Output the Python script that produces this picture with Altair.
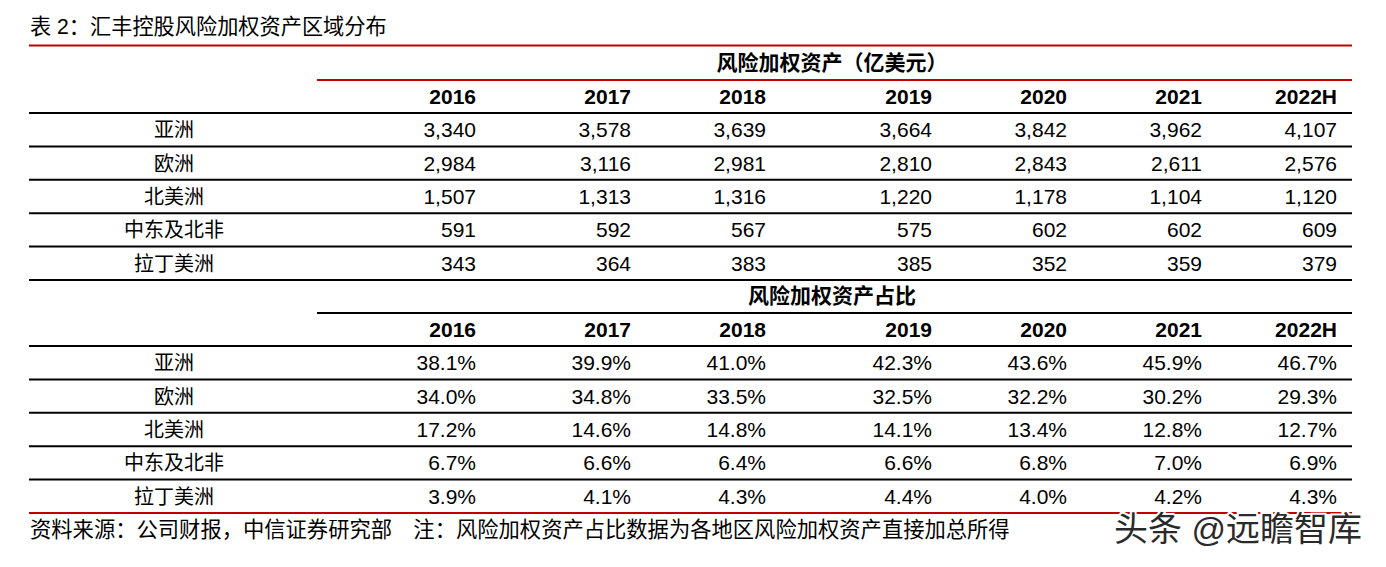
import altair as alt
import pandas as pd

# ---------------- data ----------------
title = "表 2：汇丰控股风险加权资产区域分布"
header_rwa = "风险加权资产（亿美元）"
header_share = "风险加权资产占比"
footer = "资料来源：公司财报，中信证券研究部\u3000注：风险加权资产占比数据为各地区风险加权资产直接加总所得"
watermark = "头条 @远瞻智库"

years = ["2016", "2017", "2018", "2019", "2020", "2021", "2022H"]
regions = ["亚洲", "欧洲", "北美洲", "中东及北非", "拉丁美洲"]

rwa_asia = [3340, 3578, 3639, 3664, 3842, 3962, 4107]
rwa_europe = [2984, 3116, 2981, 2810, 2843, 2611, 2576]
rwa_namerica = [1507, 1313, 1316, 1220, 1178, 1104, 1120]
rwa_mena = [591, 592, 567, 575, 602, 602, 609]
rwa_latam = [343, 364, 383, 385, 352, 359, 379]

share_asia = [38.1, 39.9, 41.0, 42.3, 43.6, 45.9, 46.7]
share_europe = [34.0, 34.8, 33.5, 32.5, 32.2, 30.2, 29.3]
share_namerica = [17.2, 14.6, 14.8, 14.1, 13.4, 12.8, 12.7]
share_mena = [6.7, 6.6, 6.4, 6.6, 6.8, 7.0, 6.9]
share_latam = [3.9, 4.1, 4.3, 4.4, 4.0, 4.2, 4.3]

rwa_rows = [rwa_asia, rwa_europe, rwa_namerica, rwa_mena, rwa_latam]
share_rows = [share_asia, share_europe, share_namerica, share_mena, share_latam]

# ---------------- layout (page pixel units) ----------------
W, H = 1370, 551
X0, Y0 = 8, 8
col_right = [476, 631, 766, 932, 1067, 1202, 1337]
label_cx = 174
left_x, right_x, sub_left = 29, 1352, 317
row_h = 33.4
sec1_lines = 113.0
sec2_lines = 346.0
header_cx = 832

FONT = "Liberation Sans, Arial, Noto Sans CJK SC"
RED = "#c00000"

xs = alt.Scale(domain=[X0, X0 + W], range=[0, W])
ys = alt.Scale(domain=[Y0, Y0 + H], range=[0, H])

# ---------------- rules ----------------
rules = []
rules.append(dict(x=left_x, x2=right_x, y=45.5, c="red"))
rules.append(dict(x=sub_left, x2=right_x, y=80, c="red"))
for i in range(6):
    rules.append(dict(x=left_x, x2=right_x, y=sec1_lines + i * row_h, c="black"))
rules.append(dict(x=sub_left, x2=right_x, y=313, c="black"))
for i in range(5):
    rules.append(dict(x=left_x, x2=right_x, y=sec2_lines + i * row_h, c="black"))
rules.append(dict(x=left_x, x2=right_x, y=sec2_lines + 5 * row_h, c="red"))
rules_df = pd.DataFrame(rules)

rule_layer = alt.Chart(rules_df).mark_rule(strokeWidth=2).encode(
    x=alt.X("x:Q", scale=xs, axis=None),
    x2="x2:Q",
    y=alt.Y("y:Q", scale=ys, axis=None),
    color=alt.Color("c:N", scale=alt.Scale(domain=["red", "black"], range=[RED, "#000000"]), legend=None),
)

# ---------------- texts ----------------
labels, values, yrs = [], [], []
for sec, (lines_y, rows, fmt) in enumerate([
    (sec1_lines, rwa_rows, lambda v: f"{v:,}"),
    (sec2_lines, share_rows, lambda v: f"{v:.1f}%"),
]):
    for j, y in enumerate(years):
        yrs.append(dict(x=col_right[j], y=lines_y - row_h / 2 + 1.5, t=y))
    for i, reg in enumerate(regions):
        cy = lines_y + (i + 0.5) * row_h + 1.5
        labels.append(dict(x=label_cx, y=cy, t=reg))
        for j in range(len(years)):
            values.append(dict(x=col_right[j], y=cy, t=fmt(rows[i][j])))

headers = [dict(x=header_cx, y=64, t=header_rwa), dict(x=header_cx, y=297, t=header_share)]


def text_layer(rows, **kw):
    return alt.Chart(pd.DataFrame(rows)).mark_text(font=FONT, baseline="middle", **kw).encode(
        x=alt.X("x:Q", scale=xs, axis=None),
        y=alt.Y("y:Q", scale=ys, axis=None),
        text="t:N",
    )


label_layer = text_layer(labels, align="center", fontSize=20, color="#000")
value_layer = text_layer(values, align="right", fontSize=21, color="#000")
year_layer = text_layer(yrs, align="right", fontSize=21, fontWeight="bold", color="#000")
header_layer = text_layer(headers, align="center", fontSize=21, fontWeight="bold", color="#000")
title_layer = text_layer([dict(x=30, y=28, t=title)], align="left", fontSize=21.2, color="#000")
footer_layer = text_layer([dict(x=30, y=531, t=footer)], align="left", fontSize=21.3, color="#000")
wm_back = text_layer([dict(x=1114, y=531, t=watermark)], align="left", fontSize=34,
                     color="#ffffff", stroke="#ffffff", strokeWidth=4)
wm_front = text_layer([dict(x=1114, y=531, t=watermark)], align="left", fontSize=34, color="#2a2a2a")

chart = alt.layer(
    rule_layer, label_layer, value_layer, year_layer, header_layer,
    title_layer, footer_layer, wm_back, wm_front,
).properties(
    width=W, height=H, padding=0, autosize="none", background="white"
).configure_view(stroke=None)

chart.save("out.html", embed_options={"renderer": "svg", "actions": False})
